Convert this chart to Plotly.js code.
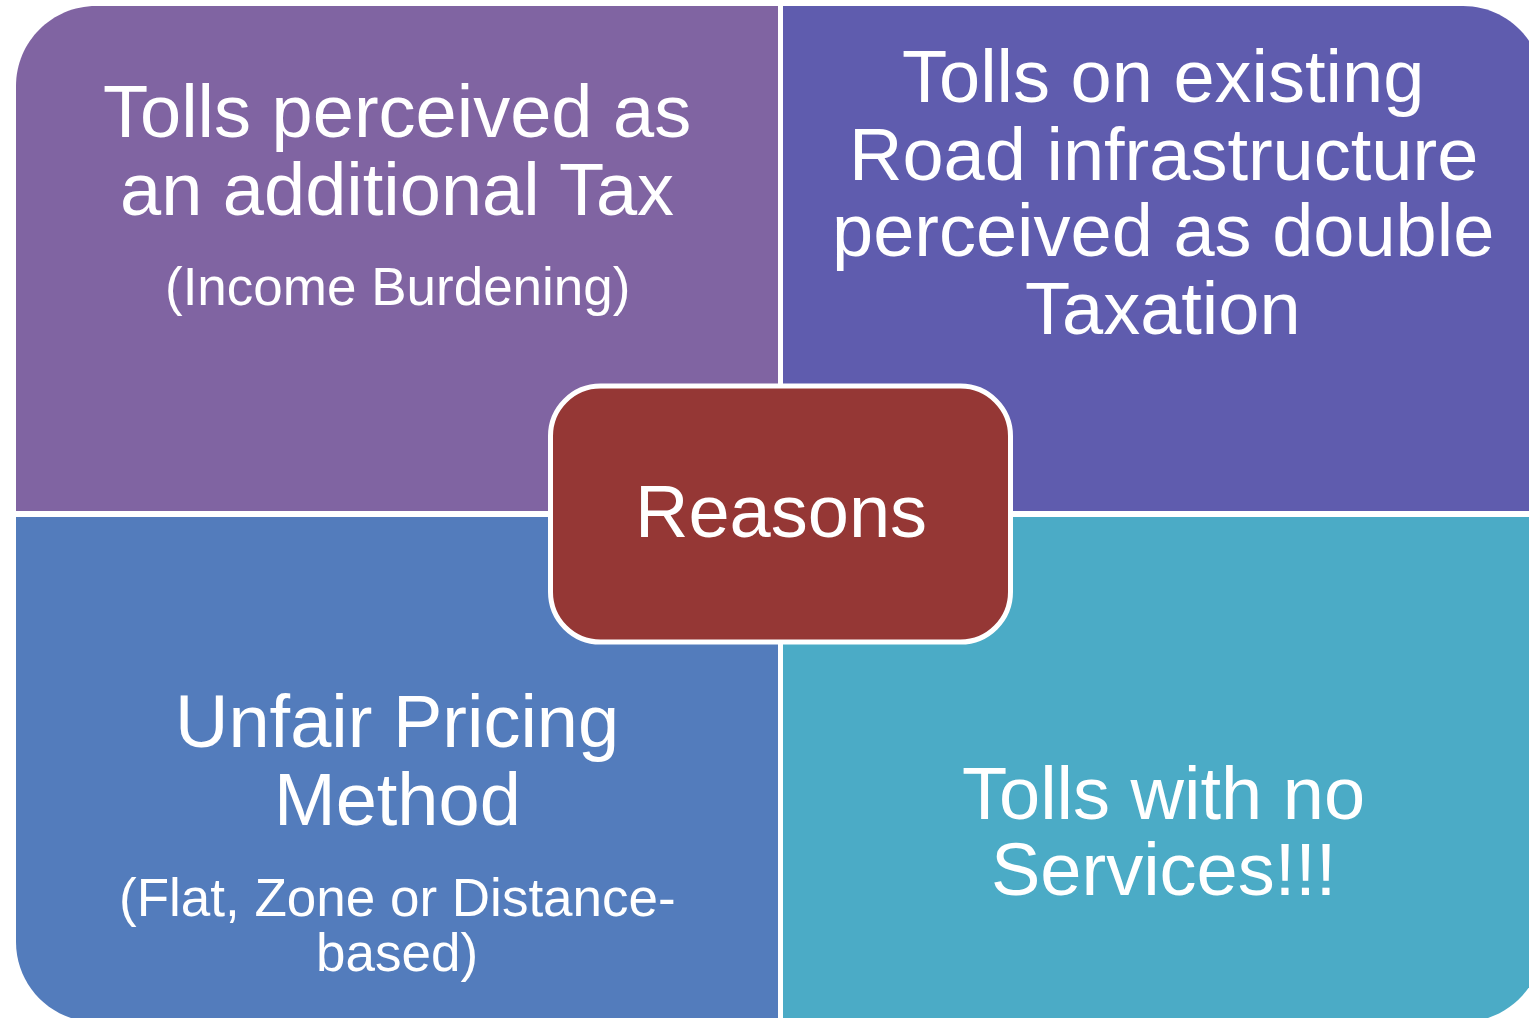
<!DOCTYPE html>
<html>
<head>
<meta charset="utf-8">
<script src="https://cdn.plot.ly/plotly-3.0.1.min.js"></script>
<style>html,body{margin:0;padding:0;background:#fff;}#chart{width:1529px;height:1018px;}</style>
</head>
<body>
<div id="chart"></div>
<script>
// ---- content ----
const centerLabel = "Reasons";
const quadrantNames = ["topLeft", "topRight", "bottomLeft", "bottomRight"];
const quadrantTitles = [
  ["Tolls perceived as", "an additional Tax"],
  ["Tolls on existing", "Road infrastructure", "perceived as double", "Taxation"],
  ["Unfair Pricing", "Method"],
  ["Tolls with no", "Services!!!"]
];
const quadrantNotes = [
  ["(Income Burdening)"],
  [],
  ["(Flat, Zone or Distance-", "based)"],
  []
];
const quadrantColors = ["#8064A2", "#5F5CAE", "#537CBC", "#4BABC6"];
const centerColor = "#953735";

// ---- geometry (layout only) ----
const W = 1529, H = 1018;
const X0 = 16, X1 = 1543, Y0 = 6, Y1 = 1022;
const XM0 = 778, XM1 = 783, YM0 = 511, YM1 = 517;
const R = 80, K = 0.5523;
const rects = [
  {x0: X0, x1: XM0, y0: Y0, y1: YM0, corner: "tl"},
  {x0: XM1, x1: X1, y0: Y0, y1: YM0, corner: "tr"},
  {x0: X0, x1: XM0, y0: YM1, y1: Y1, corner: "bl"},
  {x0: XM1, x1: X1, y0: YM1, y1: Y1, corner: "br"}
];
const c = R * (1 - K);
function quadPath(q) {
  const {x0, x1, y0, y1, corner} = q;
  if (corner === "tl") return `M${x0},${y1} L${x0},${y0+R} C${x0},${y0+c} ${x0+c},${y0} ${x0+R},${y0} L${x1},${y0} L${x1},${y1} Z`;
  if (corner === "tr") return `M${x0},${y0} L${x1-R},${y0} C${x1-c},${y0} ${x1},${y0+c} ${x1},${y0+R} L${x1},${y1} L${x0},${y1} Z`;
  if (corner === "bl") return `M${x0},${y0} L${x1},${y0} L${x1},${y1} L${x0+R},${y1} C${x0+c},${y1} ${x0},${y1-c} ${x0},${y1-R} Z`;
  return `M${x0},${y0} L${x1},${y0} L${x1},${y1-R} C${x1},${y1-c} ${x1-c},${y1} ${x1-R},${y1} L${x0},${y1} Z`;
}
function roundRect(x0, y0, x1, y1, r) {
  const cc = r * (1 - K);
  return `M${x0+r},${y0} L${x1-r},${y0} C${x1-cc},${y0} ${x1},${y0+cc} ${x1},${y0+r} ` +
         `L${x1},${y1-r} C${x1},${y1-cc} ${x1-cc},${y1} ${x1-r},${y1} ` +
         `L${x0+r},${y1} C${x0+cc},${y1} ${x0},${y1-cc} ${x0},${y1-r} ` +
         `L${x0},${y0+r} C${x0},${y0+cc} ${x0+cc},${y0} ${x0+r},${y0} Z`;
}

const shapes = rects.map((q, i) => ({
  type: "path", path: quadPath(q), xref: "x", yref: "y",
  fillcolor: quadrantColors[i], line: {width: 0}, layer: "below"
}));
shapes.push({
  type: "path", path: roundRect(550.5, 386, 1010.5, 642, 50), xref: "x", yref: "y",
  fillcolor: centerColor, line: {color: "#ffffff", width: 5}, layer: "above"
});

// text line placement
const colX = [397, 1163, 397, 1163];
const titleY = [[111, 189], [76, 154, 230, 308], [721, 799], [793, 869]];
const noteY = [[286], [], [897, 952], []];
const TITLE_SIZE = 74, NOTE_SIZE = 53;
const FONT = "Liberation Sans, Arial, sans-serif";

const annotations = [];
quadrantTitles.forEach((lines, i) => {
  lines.forEach((t, j) => annotations.push({
    x: colX[i], y: titleY[i][j], xref: "x", yref: "y", text: t, showarrow: false,
    xanchor: "center", yanchor: "middle", font: {family: FONT, size: TITLE_SIZE, color: "#ffffff"}
  }));
  quadrantNotes[i].forEach((t, j) => annotations.push({
    x: colX[i], y: noteY[i][j], xref: "x", yref: "y", text: t, showarrow: false,
    xanchor: "center", yanchor: "middle", font: {family: FONT, size: NOTE_SIZE, color: "#ffffff"}
  }));
});
annotations.push({
  x: 781, y: 511, xref: "x", yref: "y", text: centerLabel, showarrow: false,
  xanchor: "center", yanchor: "middle", font: {family: FONT, size: TITLE_SIZE, color: "#ffffff"}
});

const layout = {
  width: W, height: H,
  margin: {l: 0, r: 0, t: 0, b: 0, pad: 0},
  paper_bgcolor: "#ffffff", plot_bgcolor: "#ffffff",
  xaxis: {range: [0, W], visible: false, fixedrange: true},
  yaxis: {range: [H, 0], visible: false, fixedrange: true},
  showlegend: false,
  shapes: shapes,
  annotations: annotations
};
Plotly.newPlot("chart", [{x: [], y: [], type: "scatter", hoverinfo: "skip"}], layout, {displayModeBar: false, staticPlot: true});
</script>
</body>
</html>
